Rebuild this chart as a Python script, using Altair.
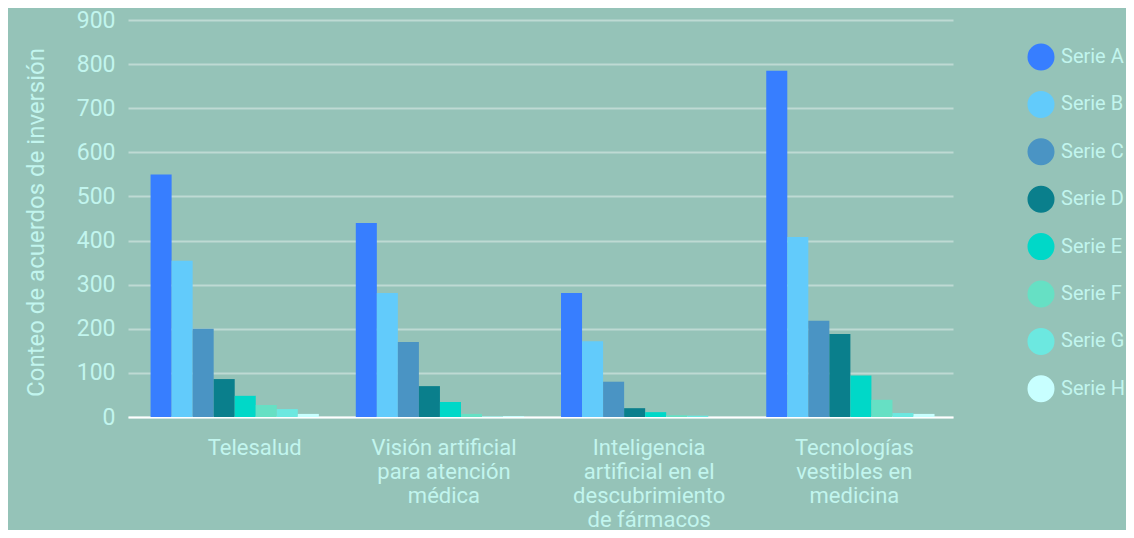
import altair as alt
import pandas as pd

categories = [
    "Telesalud",
    "Visión artificial para atención médica",
    "Inteligencia artificial en el descubrimiento de fármacos",
    "Tecnologías vestibles en medicina",
]
category_lines = [
    ["Telesalud"],
    ["Visión artificial", "para atención", "médica"],
    ["Inteligencia", "artificial en el", "descubrimiento", "de fármacos"],
    ["Tecnologías", "vestibles en", "medicina"],
]
series = ["Serie A", "Serie B", "Serie C", "Serie D", "Serie E", "Serie F", "Serie G", "Serie H"]
serie_a = [550, 440, 281, 785]
serie_b = [354, 281, 172, 408]
serie_c = [200, 170, 80, 218]
serie_d = [86, 70, 20, 188]
serie_e = [48, 34, 11, 94]
serie_f = [27, 7, 4, 39]
serie_g = [18, 1, 3, 9]
serie_h = [7, 2, 0, 7]
colors = ["#377EFF", "#62CBFB", "#4A94C4", "#0A7F8C", "#00D8C8", "#66E0C4", "#6CE8E0", "#C8FFFF"]

values = [serie_a, serie_b, serie_c, serie_d, serie_e, serie_f, serie_g, serie_h]
rows = []
for s, vals in zip(series, values):
    for c, v in zip(categories, vals):
        rows.append({"categoria": c, "serie": s, "valor": v})
df = pd.DataFrame(rows)

def js_str(t):
    return "'" + t.replace("'", "\\'") + "'"

expr = "datum.label"
for c, lines in reversed(list(zip(categories, category_lines))):
    arr = "[" + ", ".join(js_str(l) for l in lines) + "]"
    expr = f"datum.label == {js_str(c)} ? {arr} : ({expr})"

text_color = "#C2F5EE"
font = "Roboto"

chart = (
    alt.Chart(df)
    .mark_bar(strokeWidth=0)
    .encode(
        x=alt.X(
            "categoria:N",
            sort=categories,
            scale=alt.Scale(paddingInner=0.18, paddingOuter=0.1, align=0.55),
            axis=alt.Axis(
                title=None,
                labelExpr=expr,
                labelAngle=0,
                labelAlign="center",
                labelBaseline="top",
                labelFontSize=22,
                labelLineHeight=24,
                labelColor=text_color,
                labelFont=font,
                labelPadding=20,
                labelOffset={"condition": {"test": f"datum.value == {js_str(categories[0])}", "value": 20}, "value": 4},
                ticks=False,
                domain=True,
                domainColor="#FFFFFF",
                domainWidth=2,
                grid=False,
            ),
        ),
        xOffset=alt.XOffset("serie:N", sort=series, scale=alt.Scale(paddingInner=0, paddingOuter=0)),
        y=alt.Y(
            "valor:Q",
            scale=alt.Scale(domain=[0, 900], nice=False),
            axis=alt.Axis(
                title="Conteo de acuerdos de inversión",
                titleFontSize=24,
                titleFont=font,
                titleFontWeight="normal",
                titleColor=text_color,
                titleX=-85,
                titleY=202,
                titleAlign="center",
                titleBaseline="alphabetic",
                titleAngle=270,
                values=list(range(0, 901, 100)),
                labelFontSize=23,
                labelFont=font,
                labelColor=text_color,
                labelPadding=13,
                ticks=False,
                domain=False,
                grid=True,
                gridColor="#BEDAD3",
                gridWidth=2,
            ),
        ),
        color=alt.Color(
            "serie:N",
            sort=series,
            scale=alt.Scale(domain=series, range=colors),
            legend=alt.Legend(
                title=None,
                orient="none",
                legendX=899,
                legendY=23,
                padding=0,
                symbolType="circle",
                symbolSize=730,
                symbolStrokeWidth=0,
                symbolOpacity=1,
                labelFontSize=20,
                labelFont=font,
                labelColor=text_color,
                labelOffset=6,
                labelLimit=0,
                rowPadding=19.4,
            ),
        ),
    )
    .properties(
        width=825,
        height=397,
        background="#95C3B8",
        autosize=alt.AutoSizeParams(type="none"),
        padding={"left": 120, "top": 12, "right": 173, "bottom": 113},
    )
    .configure_view(stroke=None)
)

chart.save("out.html", embed_options={"renderer": "svg", "actions": False})
